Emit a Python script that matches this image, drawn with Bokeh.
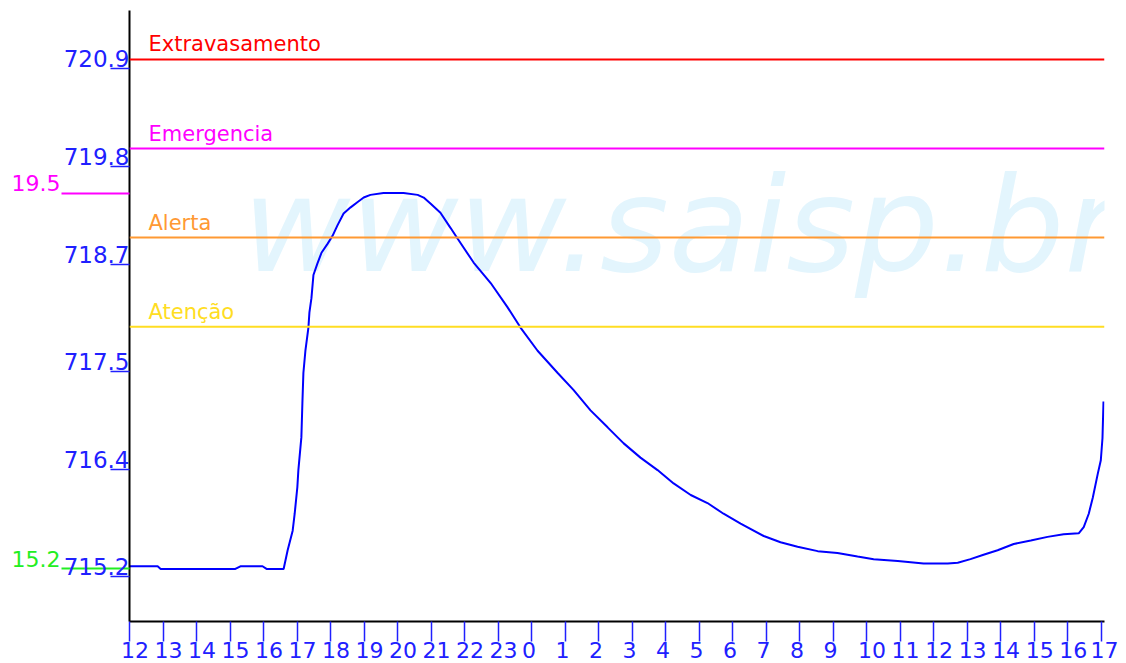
from bokeh.plotting import figure
from bokeh.models import (Span, Label, FixedTicker, Range1d, CustomJSTickFormatter,
                          LinearAxis)
from bokeh.embed import file_html
from bokeh.resources import INLINE

# ---- data ----
hours = [0, 0.84, 0.93, 3.16, 3.31, 3.97, 4.09, 4.60, 4.72, 4.87, 4.93, 5.01, 5.04, 5.13,
         5.16, 5.19, 5.25, 5.34, 5.37, 5.43, 5.49, 5.61, 5.73, 5.91, 6.06, 6.21, 6.39, 6.60,
         6.81, 6.99, 7.19, 7.58, 8.18, 8.60, 8.78, 8.99, 9.28, 9.58, 9.79, 10.27, 10.78,
         11.28, 11.67, 12.18, 12.78, 13.25, 13.76, 14.27, 14.75, 15.25, 15.76, 16.24, 16.75,
         17.25, 17.73, 18.24, 18.93, 19.43, 19.94, 20.54, 21.13, 21.73, 22.21, 22.93, 23.70,
         24.42, 24.72, 25.10, 25.49, 25.91, 26.39, 26.90, 27.40, 27.88, 28.33, 28.48, 28.63,
         28.75, 28.90, 28.99, 29.04, 29.07]
levels = [715.31, 715.31, 715.28, 715.28, 715.31, 715.31, 715.28, 715.28, 715.49, 715.71,
          715.90, 716.20, 716.39, 716.76, 717.14, 717.48, 717.73, 717.99, 718.16, 718.32,
          718.58, 718.71, 718.83, 718.93, 719.02, 719.14, 719.27, 719.34, 719.40, 719.45,
          719.48, 719.50, 719.50, 719.48, 719.45, 719.38, 719.28, 719.11, 718.99, 718.72,
          718.49, 718.22, 717.99, 717.73, 717.48, 717.29, 717.06, 716.87, 716.69, 716.53,
          716.39, 716.24, 716.11, 716.02, 715.90, 715.79, 715.65, 715.58, 715.53, 715.48,
          715.46, 715.42, 715.39, 715.37, 715.34, 715.34, 715.35, 715.39, 715.44, 715.49,
          715.56, 715.60, 715.64, 715.67, 715.68, 715.75, 715.90, 716.08, 716.35, 716.50,
          716.75, 717.16]

threshold_names = ["Extravasamento", "Emergencia", "Alerta", "Atenção"]
threshold_values = [721.0, 720.0, 719.0, 718.0]
threshold_colors = ["#ff0000", "#ff00ff", "#ff9933", "#ffdd22"]

y_tick_values = [715.2, 716.4, 717.5, 718.7, 719.8, 720.9]
y_tick_labels = ["715.2", "716.4", "717.5", "718.7", "719.8", "720.9"]

x_tick_values = list(range(30))
x_tick_labels = [str((12 + h) % 24) for h in x_tick_values]

max_label, min_label = "19.5", "15.2"
max_value, min_value = max(levels), min(levels)

watermark = "www.saisp.br"

BLUE = "#2020ff"
MAGENTA = "#ff00ff"
GREEN = "#22ee22"
FONT = "DejaVu Sans"
W, H = 1126, 663
LEFT, RIGHT, TOP, BOTTOM = 129, 22, 10, 42
X0, X1 = 0, 29.1
Y0, Y1 = 714.69, 721.55

p = figure(width=W, height=H, output_backend="svg", toolbar_location=None,
           x_range=Range1d(X0, X1), y_range=Range1d(Y0, Y1),
           min_border_left=LEFT, min_border_right=RIGHT, min_border_top=TOP,
           min_border_bottom=BOTTOM)
p.outline_line_color = None
p.xgrid.visible = False
p.ygrid.visible = False

px_per_x = (W - LEFT - RIGHT) / (X1 - X0)
px_per_y = (H - TOP - BOTTOM) / (Y1 - Y0)
lift = 9.6 / px_per_y          # labels sit on top of their tick

# watermark
p.add_layout(Label(x=X0, y=Y1, x_offset=113, y_offset=-214, text=watermark,
                   text_font=FONT, text_font_style="italic", text_font_size="132px",
                   text_color="#e3f5fd", text_baseline="alphabetic", level="underlay"))

# thresholds
for name, val, col in zip(threshold_names, threshold_values, threshold_colors):
    p.add_layout(Span(location=val, dimension="width", line_color=col, line_width=2))
    p.add_layout(Label(x=X0, y=val, x_offset=19, y_offset=15, text=name, text_font=FONT,
                       text_font_size="21px", text_color=col, text_baseline="alphabetic"))

# level line
p.line(hours, levels, line_color="#0000ff", line_width=2)


def no_labels(ax):
    ax.major_label_text_font_size = "0px"
    ax.major_label_standoff = 0
    ax.formatter = CustomJSTickFormatter(code="return ''")
    ax.minor_tick_line_color = None


def labels_only(ax, color, standoff, labels, size="22px"):
    ax.axis_line_color = None
    ax.major_tick_line_color = None
    ax.minor_tick_line_color = None
    ax.major_tick_in = 0
    ax.major_tick_out = 0
    ax.major_label_standoff = standoff
    ax.major_label_text_color = color
    ax.major_label_text_font = FONT
    ax.major_label_text_font_size = size
    ax.formatter = CustomJSTickFormatter(args=dict(labels=labels),
                                         code="return labels[index]")


# main axes: lines and ticks
for ax in (p.xaxis[0], p.yaxis[0]):
    ax.axis_line_color = "black"
    ax.axis_line_width = 2
    ax.major_tick_line_color = BLUE
    ax.major_tick_line_width = 1.5
    ax.major_tick_in = 0
    no_labels(ax)
p.xaxis[0].ticker = FixedTicker(ticks=x_tick_values)
p.xaxis[0].major_tick_out = 20
p.yaxis[0].ticker = FixedTicker(ticks=y_tick_values)
p.yaxis[0].major_tick_out = 19
YA = 19                                    # width of the main y axis

# max / min marks reaching from the margin to the axis
ax_max = LinearAxis(ticker=FixedTicker(ticks=[max_value]), axis_line_color=None,
                    major_tick_line_color=MAGENTA, major_tick_line_width=2,
                    major_tick_in=YA, major_tick_out=49)
no_labels(ax_max)
p.add_layout(ax_max, "left")
ax_min = LinearAxis(ticker=FixedTicker(ticks=[min_value]), axis_line_color=None,
                    major_tick_line_color=GREEN, major_tick_line_width=2,
                    major_tick_in=YA + 49, major_tick_out=0)
no_labels(ax_min)
p.add_layout(ax_min, "left")

# labels of the max / min marks and of the y ticks (stacked, pulled back inward)
ax_max_lab = LinearAxis(ticker=FixedTicker(ticks=[max_value + lift]))
labels_only(ax_max_lab, MAGENTA, 1, [max_label])
p.add_layout(ax_max_lab, "left")
ax_min_lab = LinearAxis(ticker=FixedTicker(ticks=[min_value + lift]))
labels_only(ax_min_lab, GREEN, -52, [min_label])
p.add_layout(ax_min_lab, "left")
ax_y_lab = LinearAxis(ticker=FixedTicker(ticks=[v + lift for v in y_tick_values]))
labels_only(ax_y_lab, BLUE, -121, y_tick_labels, "23px")
p.add_layout(ax_y_lab, "left")

# x tick labels: the label starts just before its tick
x_lab_pos = []
for v, t in zip(x_tick_values, x_tick_labels):
    shift = (-2.5 if len(t) == 1 else 5.5) / px_per_x
    x_lab_pos.append(min(v + shift, X1))
ax_x_lab = LinearAxis(ticker=FixedTicker(ticks=x_lab_pos))
labels_only(ax_x_lab, BLUE, 0, x_tick_labels)
p.add_layout(ax_x_lab, "below")
# an empty spacer that gives back the unused room under the digits
ax_pad = LinearAxis(ticker=FixedTicker(ticks=[X0]))
labels_only(ax_pad, BLUE, -4, [""], "0px")
p.add_layout(ax_pad, "below")

open("out.html", "w").write(file_html(p, INLINE))
